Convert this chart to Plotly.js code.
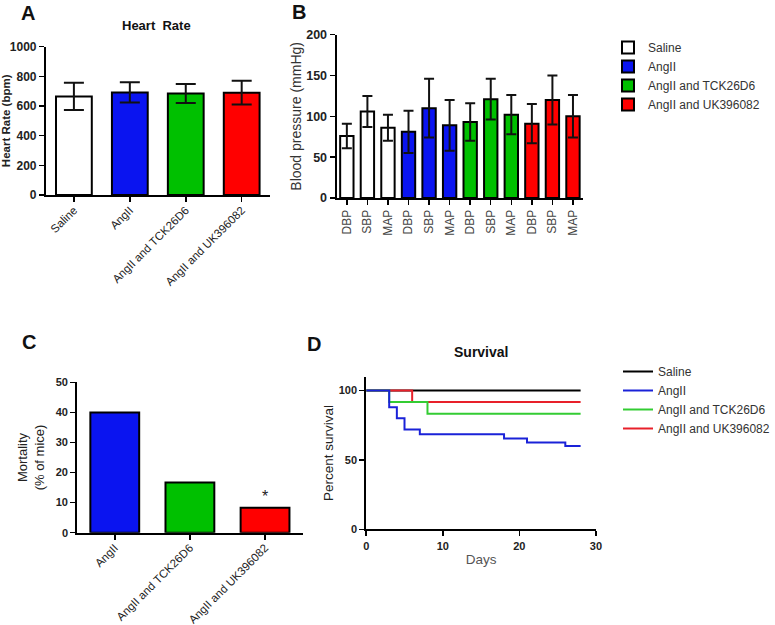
<!DOCTYPE html>
<html>
<head>
<meta charset="utf-8">
<script src="https://cdn.plot.ly/plotly-3.0.1.min.js"></script>
<style>
  html, body { margin: 0; padding: 0; background: #ffffff; }
  #chart { width: 775px; height: 625px; }
</style>
</head>
<body>
<div id="chart"></div>
<script>
(function () {
  "use strict";

  // ---- data ----
  const GROUPS = ["Saline", "AngII", "AngII and TCK26D6", "AngII and UK396082"];
  const GROUP_COLORS = ["#ffffff", "#0a14f0", "#00c000", "#ff0000"];
  const LINE_COLORS = ["#000000", "#1a22d8", "#33cc33", "#e8202a"];

  // A: heart rate
  const HR_MEAN = [665, 692, 684, 690];
  const HR_SD = [92, 68, 64, 80];

  // B: blood pressure, per group: DBP, SBP, MAP
  const BP_LABELS = ["DBP", "SBP", "MAP"];
  const BP_MEAN = [
    [76, 106, 86],
    [81, 110, 89],
    [93, 121, 102],
    [91, 120, 100]
  ];
  const BP_SD = [
    [15, 19, 16],
    [26, 36, 31],
    [23, 25, 24],
    [24, 30, 26]
  ];

  // C: mortality
  const MORT_GROUPS = ["AngII", "AngII and TCK26D6", "AngII and UK396082"];
  const MORT_VALUES = [40, 16.7, 8.3];
  const MORT_COLORS = ["#0a14f0", "#00c000", "#ff0000"];

  // D: survival (step curves)
  const SURV_DAYS = [
    [0, 28],
    [0, 3, 4, 5, 7, 18, 21, 26, 28],
    [0, 3, 8, 28],
    [0, 6, 28]
  ];
  const SURV_PCT = [
    [100, 100],
    [100, 88, 80, 72, 68.5, 65.5, 62.5, 60, 60],
    [100, 91.7, 83.3, 83.3],
    [100, 91.7, 91.7]
  ];

  const W = 775, H = 625;
  const FONT = "Liberation Sans, Arial, sans-serif";
  const px = (x) => x / W;
  const py = (y) => 1 - y / H;

  function axisBase(extra) {
    return Object.assign({
      showline: true, linecolor: "#000", linewidth: 2,
      ticks: "outside", ticklen: 5, tickwidth: 1.5, tickcolor: "#000",
      showgrid: false, zeroline: false, automargin: false, fixedrange: true,
      tickfont: { family: FONT, size: 11, color: "#222" }
    }, extra);
  }

  function boldTick(size) {
    return { family: FONT, size: size, color: "#222", weight: "bold" };
  }

  function label(text, x, y, size) {
    return {
      text: text, x: px(x), y: py(y), xref: "paper", yref: "paper",
      xanchor: "center", yanchor: "middle", showarrow: false,
      font: { family: FONT, size: size, color: "#111" }
    };
  }

  const traces = [];

  // A
  traces.push({
    type: "bar", xaxis: "x", yaxis: "y", showlegend: false,
    x: GROUPS.map((g, i) => i), y: HR_MEAN, width: 0.64,
    marker: { color: GROUP_COLORS, line: { color: "#000", width: 2 } },
    error_y: { type: "data", array: HR_SD, visible: true, color: "#111", thickness: 2, width: 10 }
  });

  // B
  GROUPS.forEach((g, gi) => {
    traces.push({
      type: "bar", xaxis: "x2", yaxis: "y2", name: g,
      legend: "legend", legendgroup: "g" + gi,
      x: BP_LABELS.map((l, j) => gi * 3 + j), y: BP_MEAN[gi], width: 0.65,
      marker: { color: GROUP_COLORS[gi], line: { color: "#000", width: 2 } },
      error_y: { type: "data", array: BP_SD[gi], visible: true, color: "#111", thickness: 2, width: 5 }
    });
  });

  // C
  traces.push({
    type: "bar", xaxis: "x3", yaxis: "y3", showlegend: false,
    x: MORT_GROUPS.map((g, i) => i), y: MORT_VALUES, width: 0.65,
    marker: { color: MORT_COLORS, line: { color: "#000", width: 2 } }
  });

  // D: drawn bottom to top as black, red, green, blue
  [0, 3, 2, 1].forEach((gi) => {
    traces.push({
      type: "scatter", mode: "lines", xaxis: "x4", yaxis: "y4",
      name: GROUPS[gi], legend: "legend2", legendrank: gi + 1,
      x: SURV_DAYS[gi], y: SURV_PCT[gi],
      line: { shape: "hv", color: LINE_COLORS[gi], width: 2 }
    });
  });

  const bpTickVals = [];
  const bpTickText = [];
  GROUPS.forEach((g, gi) => BP_LABELS.forEach((l, j) => { bpTickVals.push(gi * 3 + j); bpTickText.push(l); }));

  const layout = {
    width: W, height: H,
    margin: { l: 0, r: 0, t: 0, b: 0 },
    paper_bgcolor: "#ffffff", plot_bgcolor: "rgba(0,0,0,0)",
    font: { family: FONT, color: "#222" },
    barmode: "overlay",

    xaxis: axisBase({
      domain: [px(46), px(270)], anchor: "y", range: [-0.5, 3.5],
      tickvals: [0, 1, 2, 3], ticktext: GROUPS, tickangle: -45, ticklabelstandoff: -3,
      tickfont: { family: FONT, size: 11.5, color: "#222" }
    }),
    yaxis: axisBase({
      domain: [py(195), py(46.7)], anchor: "x", range: [0, 1000], dtick: 200,
      tickfont: boldTick(12),
      title: { text: "Heart Rate (bpm)", standoff: 1, font: { family: FONT, size: 11.5, color: "#222", weight: "bold" } }
    }),

    xaxis2: axisBase({
      domain: [px(337), px(584)], anchor: "y2", range: [-0.5, 11.5],
      tickvals: bpTickVals, ticktext: bpTickText, tickangle: -90,
      tickfont: { family: FONT, size: 12, color: "#444" }
    }),
    yaxis2: axisBase({
      domain: [py(198), py(34.7)], anchor: "x2", range: [0, 200], dtick: 50,
      tickfont: boldTick(12.5),
      title: { text: "Blood pressure (mmHg)", standoff: 1, font: { family: FONT, size: 14, color: "#333" } }
    }),

    xaxis3: axisBase({
      domain: [px(77.3), px(303)], anchor: "y3", range: [-0.5, 2.5],
      tickvals: [0, 1, 2], ticktext: MORT_GROUPS, tickangle: -45, ticklabelstandoff: -3,
      tickfont: { family: FONT, size: 11.5, color: "#222" }
    }),
    yaxis3: axisBase({
      domain: [py(532.7), py(382.3)], anchor: "x3", range: [0, 50], dtick: 10,
      tickfont: boldTick(11),
      title: { text: "Mortality<br>(% of mice)", standoff: 8, font: { family: FONT, size: 13, color: "#222" } }
    }),

    xaxis4: axisBase({
      domain: [px(366.7), px(596.7)], anchor: "y4", range: [0, 30], dtick: 10,
      tickfont: boldTick(11),
      title: { text: "Days", standoff: 4, font: { family: FONT, size: 13.5, color: "#555" } }
    }),
    yaxis4: axisBase({
      domain: [py(529.3), py(376.7)], anchor: "x4", range: [0, 110], tickvals: [0, 50, 100],
      tickfont: boldTick(11),
      title: { text: "Percent survival", standoff: 2, font: { family: FONT, size: 13.5, color: "#222" } }
    }),

    legend: {
      x: px(608), y: py(33), xanchor: "left", yanchor: "top",
      font: { family: FONT, size: 12, color: "#333" },
      tracegroupgap: 5, traceorder: "normal", bgcolor: "rgba(0,0,0,0)"
    },
    legend2: {
      x: px(619), y: py(357), xanchor: "left", yanchor: "top",
      font: { family: FONT, size: 12, color: "#333" },
      traceorder: "normal", bgcolor: "rgba(0,0,0,0)"
    },

    annotations: [
      label("<b>A</b>", 28, 13.5, 20),
      label("<b>B</b>", 299, 12, 20),
      label("<b>C</b>", 29, 341.7, 20),
      label("<b>D</b>", 314, 344, 20),
      label("<b>Heart  Rate</b>", 157, 26, 13),
      label("<b>Survival</b>", 482, 352, 14),
      { text: "*", x: 2, y: 12, xref: "x3", yref: "y3", xanchor: "center", yanchor: "middle", showarrow: false, font: { family: FONT, size: 16, color: "#222" } }
    ]
  };

  Plotly.newPlot("chart", traces, layout, { displayModeBar: false, staticPlot: true });
})();
</script>
</body>
</html>
